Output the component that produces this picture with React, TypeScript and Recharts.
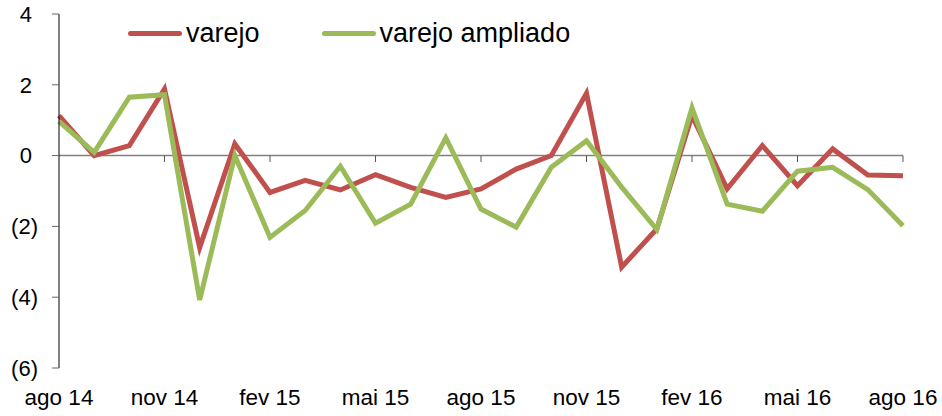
import React from "react";
import {
  LineChart,
  Line,
  XAxis,
  YAxis,
  Legend,
  ReferenceLine,
} from "recharts";

const months = [
  "ago 14", "set 14", "out 14", "nov 14", "dez 14", "jan 15", "fev 15",
  "mar 15", "abr 15", "mai 15", "jun 15", "jul 15", "ago 15", "set 15",
  "out 15", "nov 15", "dez 15", "jan 16", "fev 16", "mar 16", "abr 16",
  "mai 16", "jun 16", "jul 16", "ago 16",
];

const varejo = [
  1.13, 0.0, 0.28, 1.88, -2.6, 0.33, -1.04, -0.7, -0.97, -0.54, -0.9, -1.18,
  -0.94, -0.38, 0.0, 1.76, -3.15, -2.07, 1.13, -0.94, 0.28, -0.85, 0.19,
  -0.55, -0.57,
];

const varejoAmpliado = [
  0.97, 0.09, 1.65, 1.72, -4.08, 0.0, -2.31, -1.55, -0.3, -1.91, -1.37, 0.5,
  -1.51, -2.02, -0.33, 0.42, -0.89, -2.09, 1.35, -1.37, -1.57, -0.44, -0.33,
  -0.96, -1.98,
];

const yTicks = [-6, -4, -2, 0, 2, 4];

// marks on the zero line, every third month
const zeroLineTicks = [
  "nov 14", "fev 15", "mai 15", "ago 15", "nov 15", "fev 16", "mai 16", "ago 16",
];

const RED = "#C0504D";
const GREEN = "#9BBB59";
const FONT = "'Liberation Sans', Arial, sans-serif";

const data = months.map((m, i) => ({
  month: m,
  varejo: varejo[i],
  ampliado: varejoAmpliado[i],
}));

const fmtY = (v: number) => (v < 0 ? `(${-v})` : `${v}\u00A0`);

function LegendContent() {
  const items = [
    { label: "varejo", color: RED, gap: 0 },
    { label: "varejo ampliado", color: GREEN, gap: 62 },
  ];
  return (
    <div style={{ display: "flex", alignItems: "center", fontFamily: FONT, fontSize: 27 }}>
      {items.map((it) => (
        <div
          key={it.label}
          style={{ display: "flex", alignItems: "center", marginLeft: it.gap }}
        >
          <span
            style={{
              display: "inline-block",
              width: 54,
              height: 5,
              borderRadius: 3,
              background: it.color,
              marginRight: 4,
            }}
          />
          <span style={{ color: "#000", lineHeight: "30px" }}>{it.label}</span>
        </div>
      ))}
    </div>
  );
}

export default function App() {
  return (
    <div style={{ position: "absolute", left: 0, top: 0, background: "#fff" }}>
      <LineChart
        width={942}
        height={416}
        data={data}
        margin={{ top: 14, right: 39, left: 0, bottom: 8 }}
      >
        <XAxis
          dataKey="month"
          interval={2}
          axisLine={false}
          tickLine={false}
          tickSize={0}
          tickMargin={21}
          height={40}
          tick={{ fill: "#000", fontSize: 22.5, fontFamily: FONT }}
        />
        <YAxis
          domain={[-6, 4]}
          ticks={yTicks}
          tickFormatter={fmtY}
          width={59}
          tickSize={7}
          tickMargin={14}
          axisLine={{ stroke: "#000", strokeWidth: 1 }}
          tickLine={{ stroke: "#666", strokeWidth: 1 }}
          tick={{ fill: "#000", fontSize: 22, fontFamily: FONT }}
        />
        <ReferenceLine y={0} stroke="#808080" strokeWidth={1.5} />
        {zeroLineTicks.map((m) => (
          <ReferenceLine
            key={m}
            segment={[
              { x: m, y: 0 },
              { x: m, y: -0.18 },
            ]}
            stroke="#555"
            strokeWidth={1}
          />
        ))}
        <Legend
          verticalAlign="middle"
          align="center"
          layout="horizontal"
          content={<LegendContent />}
          wrapperStyle={{ top: 18, left: 128, width: "auto", height: "auto" }}
        />
        <Line
          type="linear"
          dataKey="varejo"
          name="varejo"
          stroke={RED}
          strokeWidth={5}
          dot={false}
          isAnimationActive={false}
        />
        <Line
          type="linear"
          dataKey="ampliado"
          name="varejo ampliado"
          stroke={GREEN}
          strokeWidth={5}
          dot={false}
          isAnimationActive={false}
        />
      </LineChart>
    </div>
  );
}
